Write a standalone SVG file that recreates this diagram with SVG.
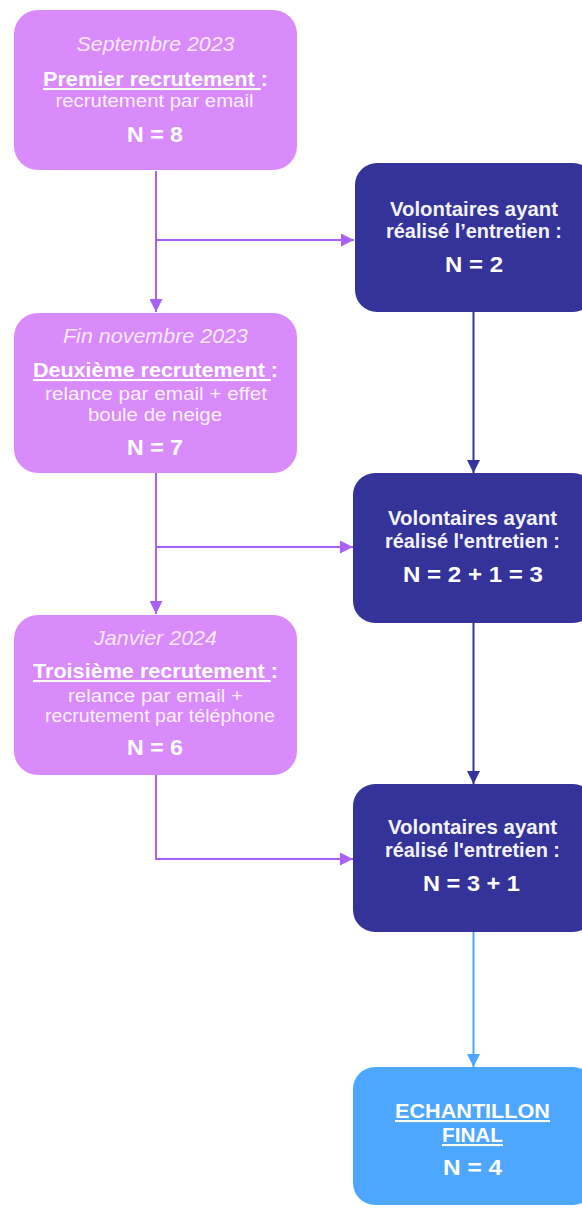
<svg xmlns="http://www.w3.org/2000/svg" width="582" height="1208" viewBox="0 0 582 1208">
<style>
text{font-family:"Liberation Sans",Arial,sans-serif;fill:#fff;text-anchor:middle}
.it{font-style:italic;font-size:20.5px;fill-opacity:0.82}
.b{font-weight:bold;font-size:21px}
.s{font-size:17.5px;fill-opacity:0.9}
.n{font-weight:bold;font-size:22px}
.d{font-size:20.5px;fill:#f2f2f8}
.pink{fill:#DA8BFB}
.dark{fill:#333399}
.fin{fill:#4DA6FF}
.cp{stroke:#A860F8;stroke-width:2;fill:none}
.cd{stroke:#333399;stroke-width:2;fill:none}
.cf{stroke:#4DA6FF;stroke-width:2;fill:none}
</style>
<defs>
<marker id="ap" viewBox="0 0 12 12" refX="12" refY="6" markerWidth="13" markerHeight="13" markerUnits="userSpaceOnUse" orient="auto"><path d="M0,0L12,6L0,12z" fill="#A860F8"/></marker>
<marker id="ad" viewBox="0 0 12 12" refX="12" refY="6" markerWidth="13" markerHeight="13" markerUnits="userSpaceOnUse" orient="auto"><path d="M0,0L12,6L0,12z" fill="#333399"/></marker>
<marker id="af" viewBox="0 0 12 12" refX="12" refY="6" markerWidth="13" markerHeight="13" markerUnits="userSpaceOnUse" orient="auto"><path d="M0,0L12,6L0,12z" fill="#4DA6FF"/></marker>
</defs>

<g id="connectors">
<path class="cp" d="M156,171V312" marker-end="url(#ap)"/>
<path class="cp" d="M156,240H354" marker-end="url(#ap)"/>
<path class="cp" d="M156,473V614" marker-end="url(#ap)"/>
<path class="cp" d="M156,547H353" marker-end="url(#ap)"/>
<path class="cp" d="M156,775V859H353" marker-end="url(#ap)"/>
<path class="cd" d="M473.5,312V473" marker-end="url(#ad)"/>
<path class="cd" d="M473.5,623V784" marker-end="url(#ad)"/>
<path class="cf" d="M473.5,932V1067" marker-end="url(#af)"/>
</g>

<g id="rec1">
<rect class="pink" x="14" y="10" width="283" height="160" rx="24"/>
<text class="it" x="155.5" y="51" textLength="158" lengthAdjust="spacingAndGlyphs">Septembre 2023</text>
<text class="b" x="155.5" y="86" textLength="225" lengthAdjust="spacingAndGlyphs"><tspan text-decoration="underline">Premier recrutement </tspan>:</text>
<text class="s" x="154.5" y="107" textLength="198" lengthAdjust="spacingAndGlyphs">recrutement par email</text>
<text class="n" x="155" y="142" textLength="56" lengthAdjust="spacingAndGlyphs">N = 8</text>
</g>

<g id="rec2">
<rect class="pink" x="14" y="313" width="283" height="160" rx="24"/>
<text class="it" x="155.5" y="343" textLength="185" lengthAdjust="spacingAndGlyphs">Fin novembre 2023</text>
<text class="b" x="155.5" y="377" textLength="245" lengthAdjust="spacingAndGlyphs"><tspan text-decoration="underline">Deuxième recrutement </tspan>:</text>
<text class="s" x="156" y="400" textLength="222" lengthAdjust="spacingAndGlyphs">relance par email + effet</text>
<text class="s" x="155" y="421" textLength="134" lengthAdjust="spacingAndGlyphs">boule de neige</text>
<text class="n" x="155" y="455" textLength="56" lengthAdjust="spacingAndGlyphs">N = 7</text>
</g>

<g id="rec3">
<rect class="pink" x="14" y="615" width="283" height="160" rx="24"/>
<text class="it" x="155.5" y="645" textLength="123" lengthAdjust="spacingAndGlyphs">Janvier 2024</text>
<text class="b" x="155.5" y="678" textLength="245" lengthAdjust="spacingAndGlyphs"><tspan text-decoration="underline">Troisième recrutement </tspan>:</text>
<text class="s" x="155.5" y="702" textLength="175" lengthAdjust="spacingAndGlyphs">relance par email +</text>
<text class="s" x="160" y="722" textLength="230" lengthAdjust="spacingAndGlyphs">recrutement par téléphone</text>
<text class="n" x="155" y="755" textLength="56" lengthAdjust="spacingAndGlyphs">N = 6</text>
</g>

<g id="vol1">
<rect class="dark" x="355" y="163" width="240" height="149" rx="22"/>
<text class="d b" x="474" y="216" textLength="168" lengthAdjust="spacingAndGlyphs">Volontaires ayant</text>
<text class="d b" x="474" y="238" textLength="176" lengthAdjust="spacingAndGlyphs">réalisé l’entretien :</text>
<text class="n" x="474" y="272" textLength="58" lengthAdjust="spacingAndGlyphs">N = 2</text>
</g>

<g id="vol2">
<rect class="dark" x="353" y="473" width="242" height="150" rx="22"/>
<text class="d b" x="472.5" y="525" textLength="169" lengthAdjust="spacingAndGlyphs">Volontaires ayant</text>
<text class="d b" x="472.5" y="548" textLength="175" lengthAdjust="spacingAndGlyphs">réalisé l'entretien :</text>
<text class="n" x="473" y="582" textLength="140" lengthAdjust="spacingAndGlyphs">N = 2 + 1 = 3</text>
</g>

<g id="vol3">
<rect class="dark" x="353" y="784" width="242" height="148" rx="22"/>
<text class="d b" x="472.5" y="834" textLength="169" lengthAdjust="spacingAndGlyphs">Volontaires ayant</text>
<text class="d b" x="472.5" y="857" textLength="175" lengthAdjust="spacingAndGlyphs">réalisé l'entretien :</text>
<text class="n" x="471.5" y="891" textLength="97" lengthAdjust="spacingAndGlyphs">N = 3 + 1</text>
</g>

<g id="final">
<rect class="fin" x="353" y="1067" width="242" height="138" rx="22"/>
<text class="b" x="472.5" y="1118" textLength="155" lengthAdjust="spacingAndGlyphs" text-decoration="underline">ECHANTILLON</text>
<text class="b" x="472.5" y="1142" textLength="61" lengthAdjust="spacingAndGlyphs" text-decoration="underline">FINAL</text>
<text class="n" x="472.5" y="1175" textLength="59" lengthAdjust="spacingAndGlyphs">N = 4</text>
</g>
</svg>
